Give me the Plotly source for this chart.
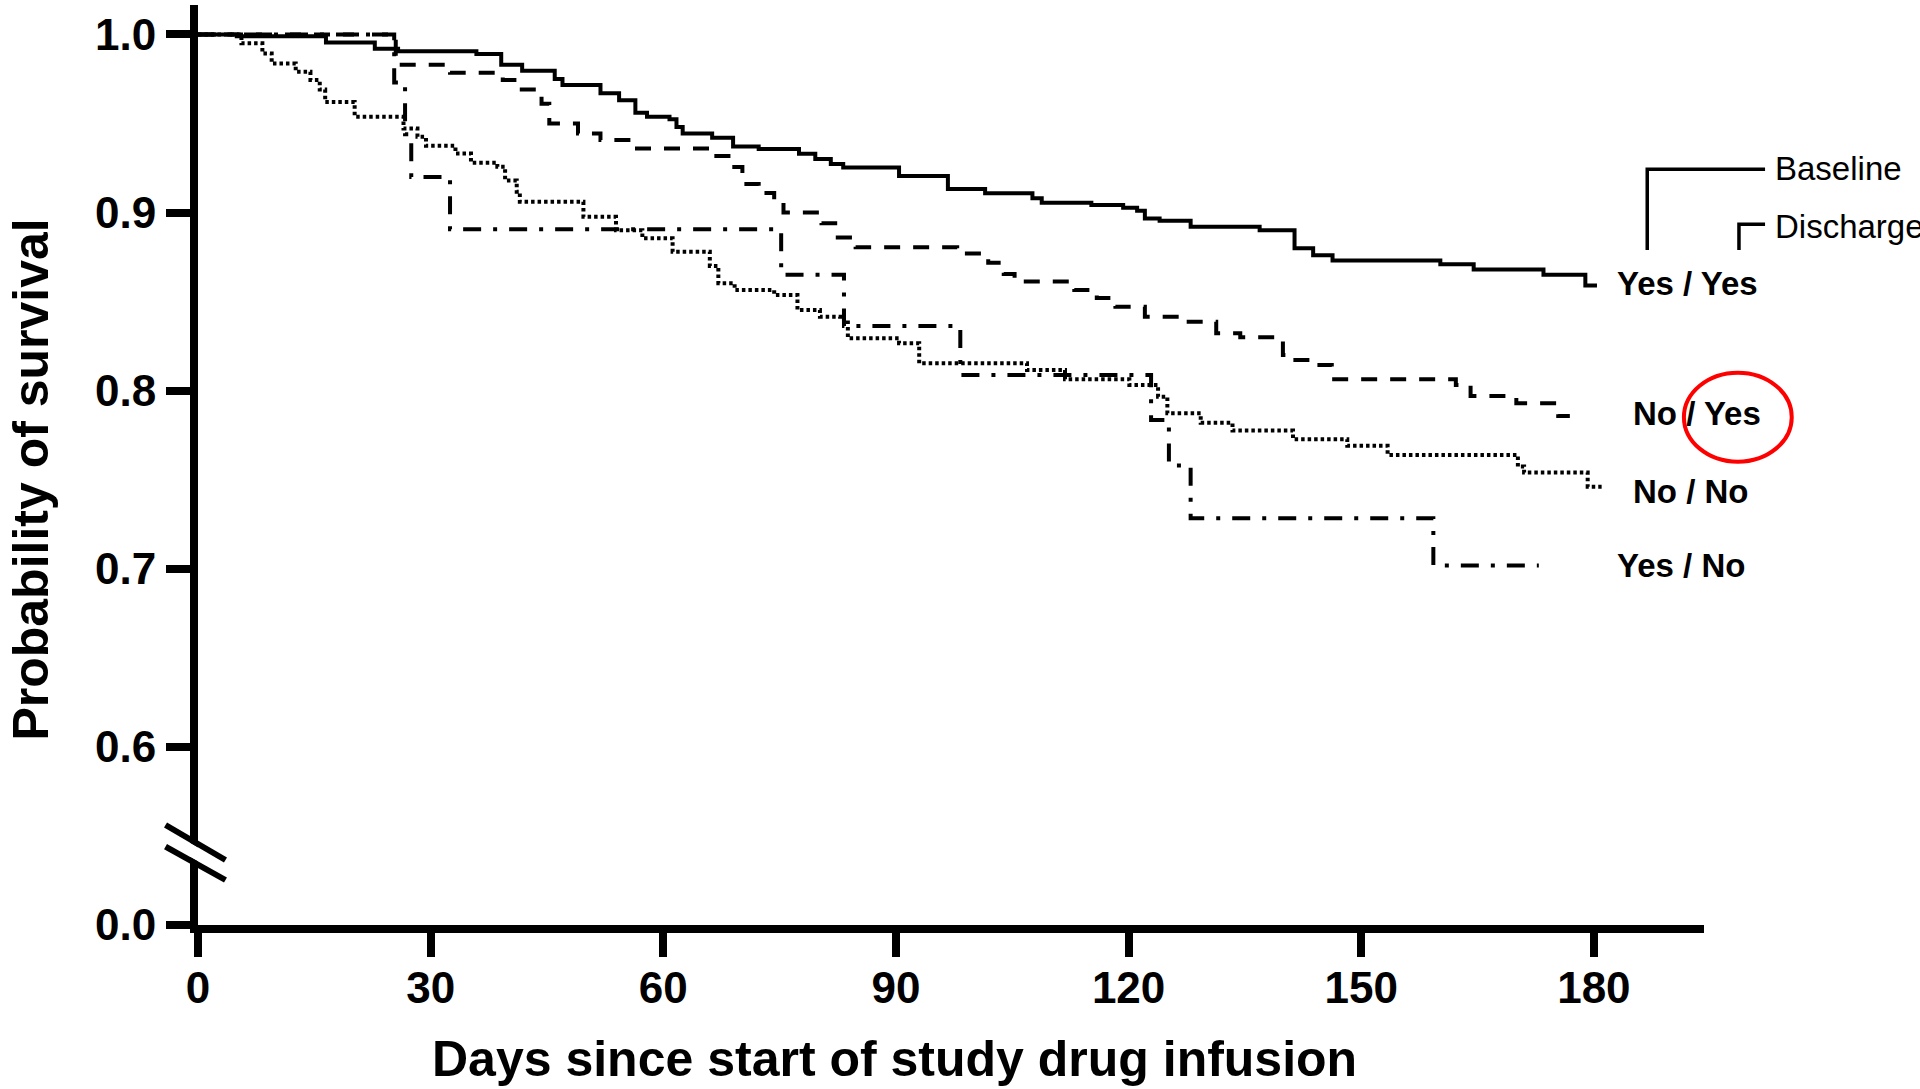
import plotly.graph_objects as go

# ---- data ----
yy_days = [0, 5, 16.5, 22.8, 25.8, 35.9, 39.1, 41.8, 46, 47, 51.9, 54.3, 56.4, 57.9, 60.8, 61.7, 62.5,
           66.3, 69, 72.3, 77.5, 79.6, 81.6, 83.2, 90.4, 96.7, 101.5, 107.6, 108.8, 115.2, 119.3, 121.1,
           122.1, 124, 128, 136.9, 141.4, 143.8, 146.3, 160.2, 164.5, 173.5, 178.9, 180.4]
yy_surv = [1.0, 0.999, 0.9955, 0.992, 0.9905, 0.989, 0.983, 0.9796, 0.975, 0.9716, 0.967, 0.963, 0.956,
           0.9538, 0.9523, 0.948, 0.9444, 0.942, 0.937, 0.9356, 0.933, 0.930, 0.9272, 0.9253, 0.9205,
           0.9132, 0.9108, 0.908, 0.9055, 0.9042, 0.9027, 0.901, 0.8967, 0.8954, 0.892, 0.890, 0.880,
           0.876, 0.873, 0.871, 0.868, 0.865, 0.859, 0.859]

ny_days = [0, 25.5, 32.5, 39.3, 41.2, 44.3, 45.3, 49.0, 51.9, 55.5, 66.2, 68.4, 70.2, 72.3, 74.3, 75.5,
           80.4, 82.5, 84.8, 97.9, 101.9, 103.9, 105.3, 113.0, 115.9, 118.3, 122.1, 126.7, 131.3, 134.4,
           139.9, 141.0, 143.7, 146.2, 162.2, 164.1, 170.0, 175.4, 176.9]
ny_surv = [1.0, 0.983, 0.9785, 0.9744, 0.969, 0.961, 0.950, 0.9444, 0.9407, 0.936, 0.9317, 0.9255, 0.916,
           0.911, 0.907, 0.900, 0.894, 0.886, 0.8805, 0.877, 0.8718, 0.8655, 0.8612, 0.8565, 0.852,
           0.8471, 0.8415, 0.8387, 0.8322, 0.830, 0.820, 0.8172, 0.8144, 0.8064, 0.8032, 0.797, 0.7929,
           0.7858, 0.7858]

nn_days = [0, 5.6, 8.3, 9.5, 12.6, 14.5, 15.7, 16.4, 20.2, 26.5, 28.3, 29.4, 33.2, 35.2, 38.6, 39.6, 41.1,
           41.5, 49.7, 53.9, 57.3, 61.2, 66.0, 67.1, 69.2, 74.3, 77.3, 80.2, 82.8, 83.8, 90.4, 93.0,
           106.9, 111.8, 120.1, 123.8, 125.0, 129.3, 133.4, 141.2, 148.2, 153.4, 170.2, 171.0, 179.2, 181.0]
nn_surv = [1.0, 0.995, 0.9893, 0.9837, 0.979, 0.9744, 0.969, 0.962, 0.9538, 0.9472, 0.9425, 0.9375, 0.9332,
           0.928, 0.9257, 0.918, 0.9117, 0.906, 0.8976, 0.890, 0.8855, 0.878, 0.870, 0.8603, 0.8565,
           0.8537, 0.8453, 0.8415, 0.8397, 0.8294, 0.8266, 0.8154, 0.8116, 0.8064, 0.8032, 0.7966,
           0.7873, 0.782, 0.7776, 0.7727, 0.769, 0.7639, 0.7574, 0.754, 0.7461, 0.7461]

yn_days = [0, 25.3, 26.7, 27.5, 32.5, 75.2, 83.3, 98.3, 122.9, 125.2, 128.0, 159.3, 172.9]
yn_surv = [1.0, 0.973, 0.944, 0.920, 0.8906, 0.865, 0.8363, 0.8088, 0.7835, 0.758, 0.7284, 0.7018, 0.7018]

x_ticks = [0, 30, 60, 90, 120, 150, 180]
y_tickvals = [0.5, 0.6, 0.7, 0.8, 0.9, 1.0]
y_ticktext = ["0.0", "0.6", "0.7", "0.8", "0.9", "1.0"]

FONT = "Liberation Sans, Arial, Helvetica, sans-serif"

# ---- layout geometry (pixels) ----
W, H = 1920, 1089
PL, PR, PT, PB = 197.5, 1704.5, 5, 925


def px(x):
    return (x - PL) / (PR - PL)


def py(y):
    return (PB - y) / (PB - PT)


fig = go.Figure()
styles = [
    (yy_days, yy_surv, "solid", "Yes / Yes"),
    (ny_days, ny_surv, "16px,13px", "No / Yes"),
    (nn_days, nn_surv, "3.5px,3px", "No / No"),
    (yn_days, yn_surv, "18px,12px,4px,12px", "Yes / No"),
]
for xs, ys, dash, name in styles:
    fig.add_trace(go.Scatter(x=xs, y=ys, mode="lines", name=name,
                             line=dict(color="black", width=4, dash=dash, shape="hv"),
                             hoverinfo="skip"))

fig.update_layout(
    width=W, height=H,
    margin=dict(l=PL, r=W - PR, t=PT, b=H - PB, pad=0),
    paper_bgcolor="white", plot_bgcolor="white",
    showlegend=False,
    font=dict(family=FONT, color="black"),
)
fig.update_xaxes(range=[0, 194.2], showline=True, linewidth=8, linecolor="black",
                 ticks="outside", ticklen=24, tickwidth=8, tickcolor="black",
                 tickvals=x_ticks, ticktext=[str(t) for t in x_ticks],
                 tickfont=dict(size=44, family=FONT, color="black", weight="bold"),
                 ticklabelstandoff=-7,
                 showgrid=False, zeroline=False)
fig.update_yaxes(range=[0.5, 1.0165], showline=True, linewidth=8, linecolor="black",
                 ticks="outside", ticklen=24, tickwidth=8, tickcolor="black",
                 tickvals=y_tickvals, ticktext=y_ticktext,
                 tickfont=dict(size=44, family=FONT, color="black", weight="bold"),
                 ticklabelstandoff=1,
                 showgrid=False, zeroline=False)

ann = []
# axis titles
ann.append(dict(x=px(894), y=py(1059), xref="paper", yref="paper", showarrow=False,
                text="<b>Days since start of study drug infusion</b>", font=dict(size=50, family=FONT),
                xanchor="center", yanchor="middle"))
ann.append(dict(x=px(29.5), y=py(479.5), xref="paper", yref="paper", showarrow=False, textangle=-90,
                text="<b>Probability of survival</b>", font=dict(size=50, family=FONT),
                xanchor="center", yanchor="middle"))
# group labels
for txt, x, y in [("Yes / Yes", 1615.5, 283.3), ("No / Yes", 1631.6, 413.3),
                  ("No / No", 1631.6, 491.7), ("Yes / No", 1615.5, 565)]:
    ann.append(dict(x=px(x), y=py(y), xref="paper", yref="paper", showarrow=False,
                    text="<b>" + txt + "</b>", font=dict(size=33, family=FONT),
                    xanchor="left", yanchor="middle"))
for txt, y in [("Baseline", 169), ("Discharge", 226.7)]:
    ann.append(dict(x=px(1774), y=py(y), xref="paper", yref="paper", showarrow=False,
                    text=txt, font=dict(size=33, family=FONT),
                    xanchor="left", yanchor="middle"))
fig.update_layout(annotations=ann)


def path(points):
    return "M " + " L ".join(f"{px(a):.5f},{py(b):.5f}" for a, b in points)


shapes = []
# axis break: white gap then two slashes
shapes.append(dict(type="path", xref="paper", yref="paper", layer="above",
                   path=path([(184, 839.5), (204, 851.2), (204, 865.0), (184, 853.9)]) + " Z",
                   fillcolor="white", line=dict(width=0)))
shapes.append(dict(type="line", xref="paper", yref="paper", layer="above",
                   x0=px(165), y0=py(825), x1=px(225), y1=py(860), line=dict(color="black", width=6)))
shapes.append(dict(type="line", xref="paper", yref="paper", layer="above",
                   x0=px(165), y0=py(846.7), x1=px(225), y1=py(880), line=dict(color="black", width=6)))
# brackets
shapes.append(dict(type="path", xref="paper", yref="paper", layer="above",
                   path=path([(1647.7, 250), (1647.7, 169.3), (1765.6, 169.3)]),
                   line=dict(color="black", width=3.5)))
shapes.append(dict(type="path", xref="paper", yref="paper", layer="above",
                   path=path([(1739.5, 250), (1739.5, 224.3), (1765.6, 224.3)]),
                   line=dict(color="black", width=3.5)))
# red circle
shapes.append(dict(type="circle", xref="paper", yref="paper", layer="above",
                   x0=px(1684.4), x1=px(1792.3), y0=py(461.7), y1=py(372.7),
                   line=dict(color="#ff0000", width=4)))
fig.update_layout(shapes=shapes)

fig.write_html("out.html")
